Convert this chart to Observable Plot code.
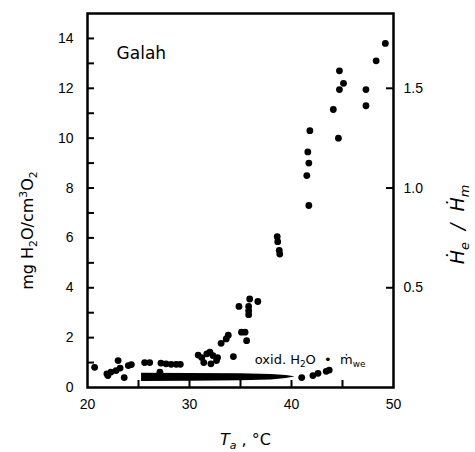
<!DOCTYPE html>
<html>
<head>
<meta charset="utf-8">
<script src="https://cdn.jsdelivr.net/npm/d3@7"></script>
<script src="https://cdn.jsdelivr.net/npm/@observablehq/plot@0.6"></script>
<style>
  html, body { margin: 0; padding: 0; background: #fff; }
  #chart { width: 475px; height: 452px; }
</style>
</head>
<body>
<div id="chart"></div>
<script>
// ---- data ----
const tempC = [20.7, 21.9, 22.0, 22.3, 22.8, 23.0, 23.2, 23.6, 24.0, 24.3,
  25.6, 26.1, 27.1, 27.2, 27.7, 28.2, 28.7, 29.1,
  30.85, 31.2, 31.4, 31.7, 32.0, 32.1, 32.3, 32.65, 32.75, 33.1, 33.6, 33.8, 34.3,
  34.85, 35.1, 35.45, 35.6, 35.8, 35.8, 35.8, 35.9, 36.7,
  38.6, 38.65, 38.8, 38.85,
  41.0, 41.5, 41.6, 41.7, 41.7, 41.8, 42.1, 42.6, 43.4, 43.7,
  44.1, 44.6, 44.7, 44.7, 45.1, 47.3, 47.3, 48.3, 49.2];
const waterLoss = [0.81, 0.55, 0.48, 0.62, 0.68, 1.08, 0.78, 0.40, 0.88, 0.92,
  1.0, 1.0, 0.62, 0.98, 0.95, 0.93, 0.93, 0.93,
  1.3, 1.2, 1.0, 1.35, 1.42, 0.95, 1.28, 1.08, 1.2, 1.77, 1.95, 2.1, 1.24,
  3.25, 2.22, 2.22, 1.88, 3.25, 3.08, 2.92, 3.55, 3.45,
  6.05, 5.85, 5.5, 5.35,
  0.40, 8.5, 9.45, 9.0, 7.3, 10.3, 0.48, 0.57, 0.65, 0.70,
  11.15, 10.0, 12.7, 11.95, 12.2, 11.95, 11.3, 13.1, 13.8];

// oxidative water band (oxid. H2O = m_we)
const bandT = [25.3, 30, 35, 38, 39.5, 40.3];
const bandLow = [0.24, 0.25, 0.27, 0.30, 0.36, 0.42];
const bandHigh = [0.57, 0.56, 0.55, 0.52, 0.48, 0.43];

const xTicks = [25, 30, 35, 40, 45];
const xLabels = [20, 30, 40, 50];
const yTicks = [1, 2, 3, 4, 5, 6, 7, 8, 9, 10, 11, 12, 13, 14];
const yLabels = [0, 2, 4, 6, 8, 10, 12, 14];
const rightLabels = [0.5, 1.0, 1.5];
const rightRatio = 8; // He/Hm = (mg H2O/cm3 O2) / 8

const speciesText = ["Galah"];
const speciesT = [22.85];
const speciesV = [13.4];

const noteText = ["oxid. H2O  •  ṁwe"];
const noteT = [36.4];
const noteV = [1.1];

const leftTitle = "mg H2O/cm3O2";
const rightTitle = "Ḣe  /  Ḣm";
const xTitle = "Ta , °C";

const points = tempC.map((t, i) => ({t, v: waterLoss[i]}));
const band = bandT.map((t, i) => ({t, lo: bandLow[i], hi: bandHigh[i]}));

const sans = "'DejaVu Sans', sans-serif";

const chart = Plot.plot({
  width: 475,
  height: 452,
  marginLeft: 87,
  marginRight: 82,
  marginTop: 13,
  marginBottom: 65,
  style: {fontFamily: "'Liberation Sans', Arial, sans-serif", background: "#fff", color: "#000"},
  x: {domain: [20, 50]},
  y: {domain: [0, 15]},
  marks: [
    Plot.areaY(band, {x: "t", y1: "lo", y2: "hi", fill: "#000", curve: "linear"}),
    Plot.dot(points, {x: "t", y: "v", r: 3.4, fill: "#000"}),
    Plot.frame({stroke: "#000", strokeWidth: 2.5}),
    // inward tick marks
    Plot.axisY(yTicks, {anchor: "left", tickSize: 7, dx: 7, fill: "none", stroke: "#000", strokeWidth: 2, label: null}),
    Plot.axisY(rightLabels.map(r => r * rightRatio), {anchor: "right", tickSize: 8, dx: -8, fill: "none", stroke: "#000", strokeWidth: 2, label: null}),
    Plot.axisX(xTicks, {anchor: "bottom", tickSize: 7, dy: -7, fill: "none", stroke: "#000", strokeWidth: 2, label: null}),
    // tick labels
    Plot.axisY(yLabels, {anchor: "left", tickSize: 0, tickPadding: 14, fontSize: 14, label: null}),
    Plot.axisY(rightLabels.map(r => r * rightRatio), {anchor: "right", tickSize: 0, tickPadding: 10, fontSize: 14,
      tickFormat: d => (d / rightRatio).toFixed(1), label: null}),
    Plot.axisX(xLabels, {anchor: "bottom", tickSize: 0, tickPadding: 12, fontSize: 14, label: null}),
    // annotations
    Plot.text(speciesText, {x: speciesT, y: speciesV, text: d => d, textAnchor: "start",
      fontSize: 17, fontFamily: sans}),
    Plot.text(noteText, {x: noteT, y: noteV, text: d => d, textAnchor: "start",
      fontSize: 13, fontFamily: sans}),
    // axis titles
    Plot.text([leftTitle], {frameAnchor: "left", textAnchor: "middle", lineAnchor: "middle", rotate: -90,
      dx: -60, dy: 30, text: d => d, fontSize: 16, fontFamily: sans}),
    Plot.text([rightTitle], {frameAnchor: "right", textAnchor: "middle", lineAnchor: "middle", rotate: -90,
      dx: 64, dy: 24, text: d => d, fontSize: 19, fontStyle: "italic", fontFamily: sans}),
    Plot.text([xTitle], {frameAnchor: "bottom", textAnchor: "middle", lineAnchor: "middle",
      dx: 5, dy: 52, text: d => d, fontSize: 16, fontFamily: sans})
  ]
});

// rich text: subscripts/superscripts via tspans
function richen(svg, plain, segs, shift) {
  d3.select(svg).selectAll("text").filter(function() { return this.textContent === plain; }).each(function() {
    const t = d3.select(this);
    t.text(null);
    let cur = 0;
    for (const [s, kind, italic] of segs) {
      const target = kind === "sub" ? shift : kind === "sup" ? -shift * 1.4 : 0;
      const ts = t.append("tspan").text(s);
      if (target - cur !== 0) ts.attr("dy", target - cur);
      if (kind) ts.attr("font-size", "68%");
      if (italic) ts.attr("font-style", "italic");
      cur = target;
    }
  });
}
richen(chart, leftTitle, [["mg H"], ["2", "sub"], ["O/cm"], ["3", "sup"], ["O"], ["2", "sub"]], 4);
richen(chart, rightTitle, [["Ḣ"], ["e", "sub"], ["  /  Ḣ"], ["m", "sub"]], 5);
richen(chart, xTitle, [["T", null, true], ["a", "sub", true], [" , °C"]], 4);
richen(chart, noteText[0], [["oxid. H"], ["2", "sub"], ["O  •  ṁ"], ["we", "sub"]], 3);

document.getElementById("chart").appendChild(chart);
</script>
</body>
</html>
